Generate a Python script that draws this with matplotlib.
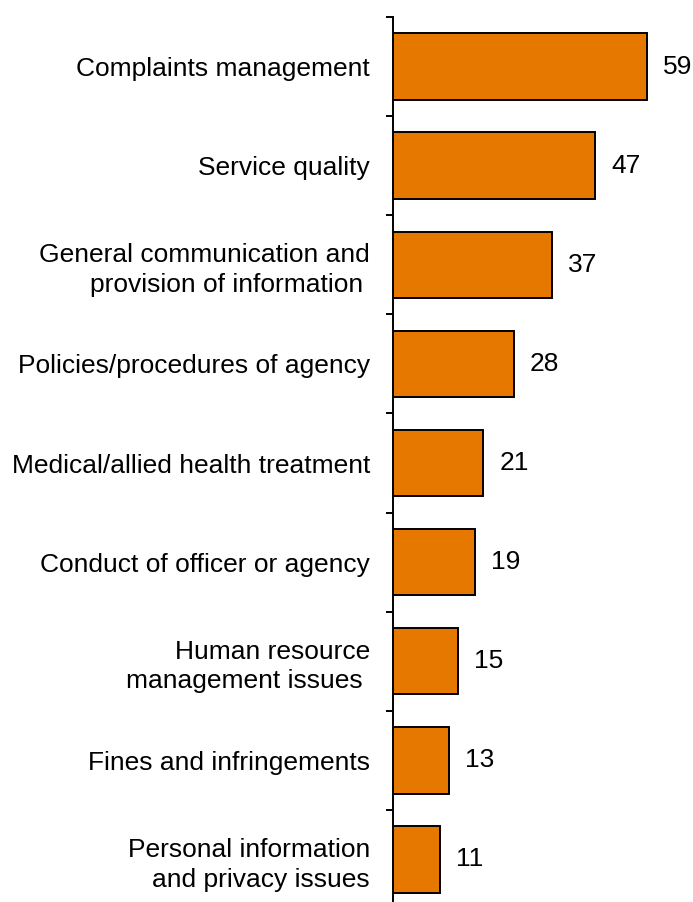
import matplotlib.pyplot as plt
import numpy as np

plt.rcParams['font.family'] = ['Liberation Sans', 'DejaVu Sans']

categories = [
    "Complaints management",
    "Service quality",
    "General communication and\nprovision of information ",
    "Policies/procedures of agency",
    "Medical/allied health treatment",
    "Conduct of officer or agency",
    "Human resource\nmanagement issues ",
    "Fines and infringements",
    "Personal information\nand privacy issues",
]
values = [59, 47, 37, 28, 21, 19, 15, 13, 11]

fig = plt.figure(figsize=(6.93, 9.02), dpi=100)
ax = fig.add_axes([393 / 693, -7 / 902, 300 / 693, 892 / 902])

y = np.arange(len(categories))
ax.barh(y, values, height=0.67, color='#E67800', edgecolor='black', linewidth=1.4)

for yi, v in zip(y, values):
    ax.text(v + 3.7, yi, str(v), va='center', ha='left', fontsize=19)

ax.set_xlim(0, 300 / 4.305)
ax.set_ylim(len(categories) - 0.5, -0.5)

ax.set_yticks(y)
ax.set_yticklabels(categories, fontsize=19, multialignment='right', linespacing=1.3)
ax.tick_params(axis='y', which='major', length=0, pad=16.5)
ax.set_yticks(np.arange(len(categories) + 1) - 0.5, minor=True)
ax.tick_params(axis='y', which='minor', length=5, width=1.4, direction='out')

ax.set_xticks([])
for s in ['top', 'right', 'bottom']:
    ax.spines[s].set_visible(False)
ax.spines['left'].set_linewidth(1.4)

fig.savefig('out.png', dpi=100)
